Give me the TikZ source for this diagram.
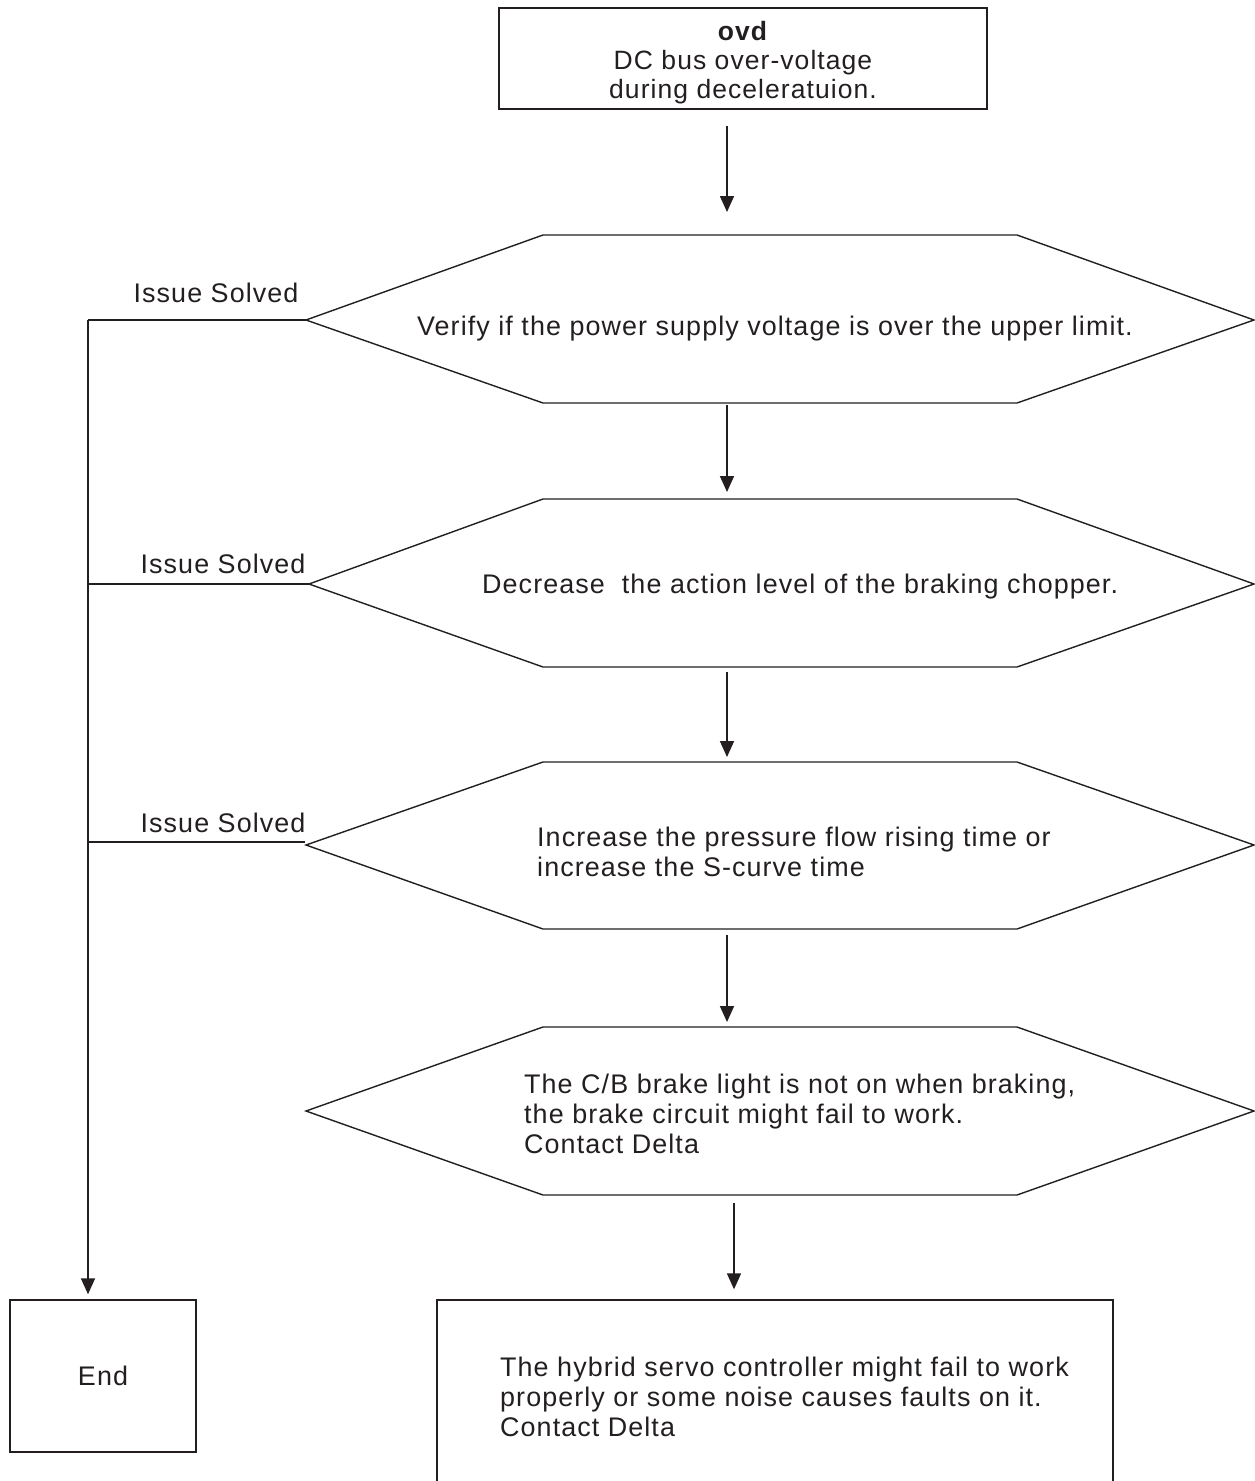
\documentclass[tikz,border=0pt]{standalone}
\usepackage{fontspec}
\setmainfont{Liberation Sans}[LetterSpace=4]
\usetikzlibrary{arrows.meta}
\definecolor{ink}{HTML}{231F20}
\begin{document}
\begin{tikzpicture}[x=1pt,y=-1pt,
  txt/.style={font=\fontsize{26.9}{30}\selectfont, text=ink, inner sep=0pt},
  boxnode/.style={draw=ink, line width=1.4pt, rectangle, inner sep=0pt},
  hexline/.style={draw=ink, line width=1.4pt},
  arr/.style={draw=ink, line width=1.7pt, -{Triangle[width=14pt,length=16pt]}},
  branch/.style={draw=ink, line width=1.3pt}]
\useasboundingbox (0,0) rectangle (1255,1481);

% top box
\node[boxnode, minimum width=488pt, minimum height=101pt] (top) at (743,58.5) {};
\node[txt, font=\fontsize{26.5}{29}\selectfont, align=center] (toptxt) at (743,62.5)
  {\textbf{ovd}\\DC bus over-voltage\\during deceleratuion.};

% hexagons
\draw[hexline] (306,320) coordinate (h1l) -- (543,235) -- (1017,235) -- (1254,320) -- (1017,403) -- (543,403) -- cycle;
\coordinate (h1t) at (727,235); \coordinate (h1b) at (727,403);
\node[txt, anchor=west] (t1) at (417,329) {Verify if the power supply voltage is over the upper limit.};

\draw[hexline] (309,584) coordinate (h2l) -- (543,499) -- (1017,499) -- (1254,584) -- (1017,667) -- (543,667) -- cycle;
\coordinate (h2t) at (727,499); \coordinate (h2b) at (727,667);
\node[txt, anchor=west] (t2) at (482,587) {Decrease\ \ the action level of the braking chopper.};

\draw[hexline] (306,845) coordinate (h3l) -- (543,762) -- (1017,762) -- (1254,845) -- (1017,929) -- (543,929) -- cycle;
\coordinate (h3t) at (727,762); \coordinate (h3b) at (727,929);
\node[txt, anchor=west, align=left] (t3) at (537,852) {Increase the pressure flow rising time or\\increase the S-curve time};

\draw[hexline] (306,1111) coordinate (h4l) -- (543,1027) -- (1017,1027) -- (1254,1111) -- (1017,1195) -- (543,1195) -- cycle;
\coordinate (h4t) at (727,1027); \coordinate (h4b) at (734,1195);
\node[txt, anchor=west, align=left] (t4) at (524,1114) {The C/B brake light is not on when braking,\\the brake circuit might fail to work.\\Contact Delta};

% bottom boxes
\node[boxnode, minimum width=676pt, minimum height=200pt] (last) at (775,1400) {};
\node[txt, anchor=west, align=left] (t5) at (500,1397) {The hybrid servo controller might fail to work\\properly or some noise causes faults on it.\\Contact Delta};
\node[boxnode, txt, minimum width=186pt, minimum height=152pt] (end) at (103,1376) {End};

% main arrows
\draw[arr, shorten <=16pt, shorten >=23pt] (top.south -| h1t) -- (h1t);
\draw[arr, shorten <=2pt, shorten >=7pt] (h1b) -- (h2t);
\draw[arr, shorten <=5pt, shorten >=5pt] (h2b) -- (h3t);
\draw[arr, shorten <=6pt, shorten >=5pt] (h3b) -- (h4t);
\draw[arr, shorten <=8pt, shorten >=10pt] (h4b) -- (h4b |- last.north);

% issue solved branches
\coordinate (j1) at (88,320);
\draw[branch] (h1l) -- (j1);
\draw[arr, line width=1.6pt, shorten >=5pt] (j1) -- (j1 |- end.north);
\draw[branch] (h2l) -- (j1 |- h2l);
\draw[branch] (305,842) -- (88,842);
\node[txt, anchor=base] (s1) at (216,302) {Issue Solved};
\node[txt, anchor=base] (s2) at (223,573) {Issue Solved};
\node[txt, anchor=base] (s3) at (223,832) {Issue Solved};
\end{tikzpicture}
\end{document}
